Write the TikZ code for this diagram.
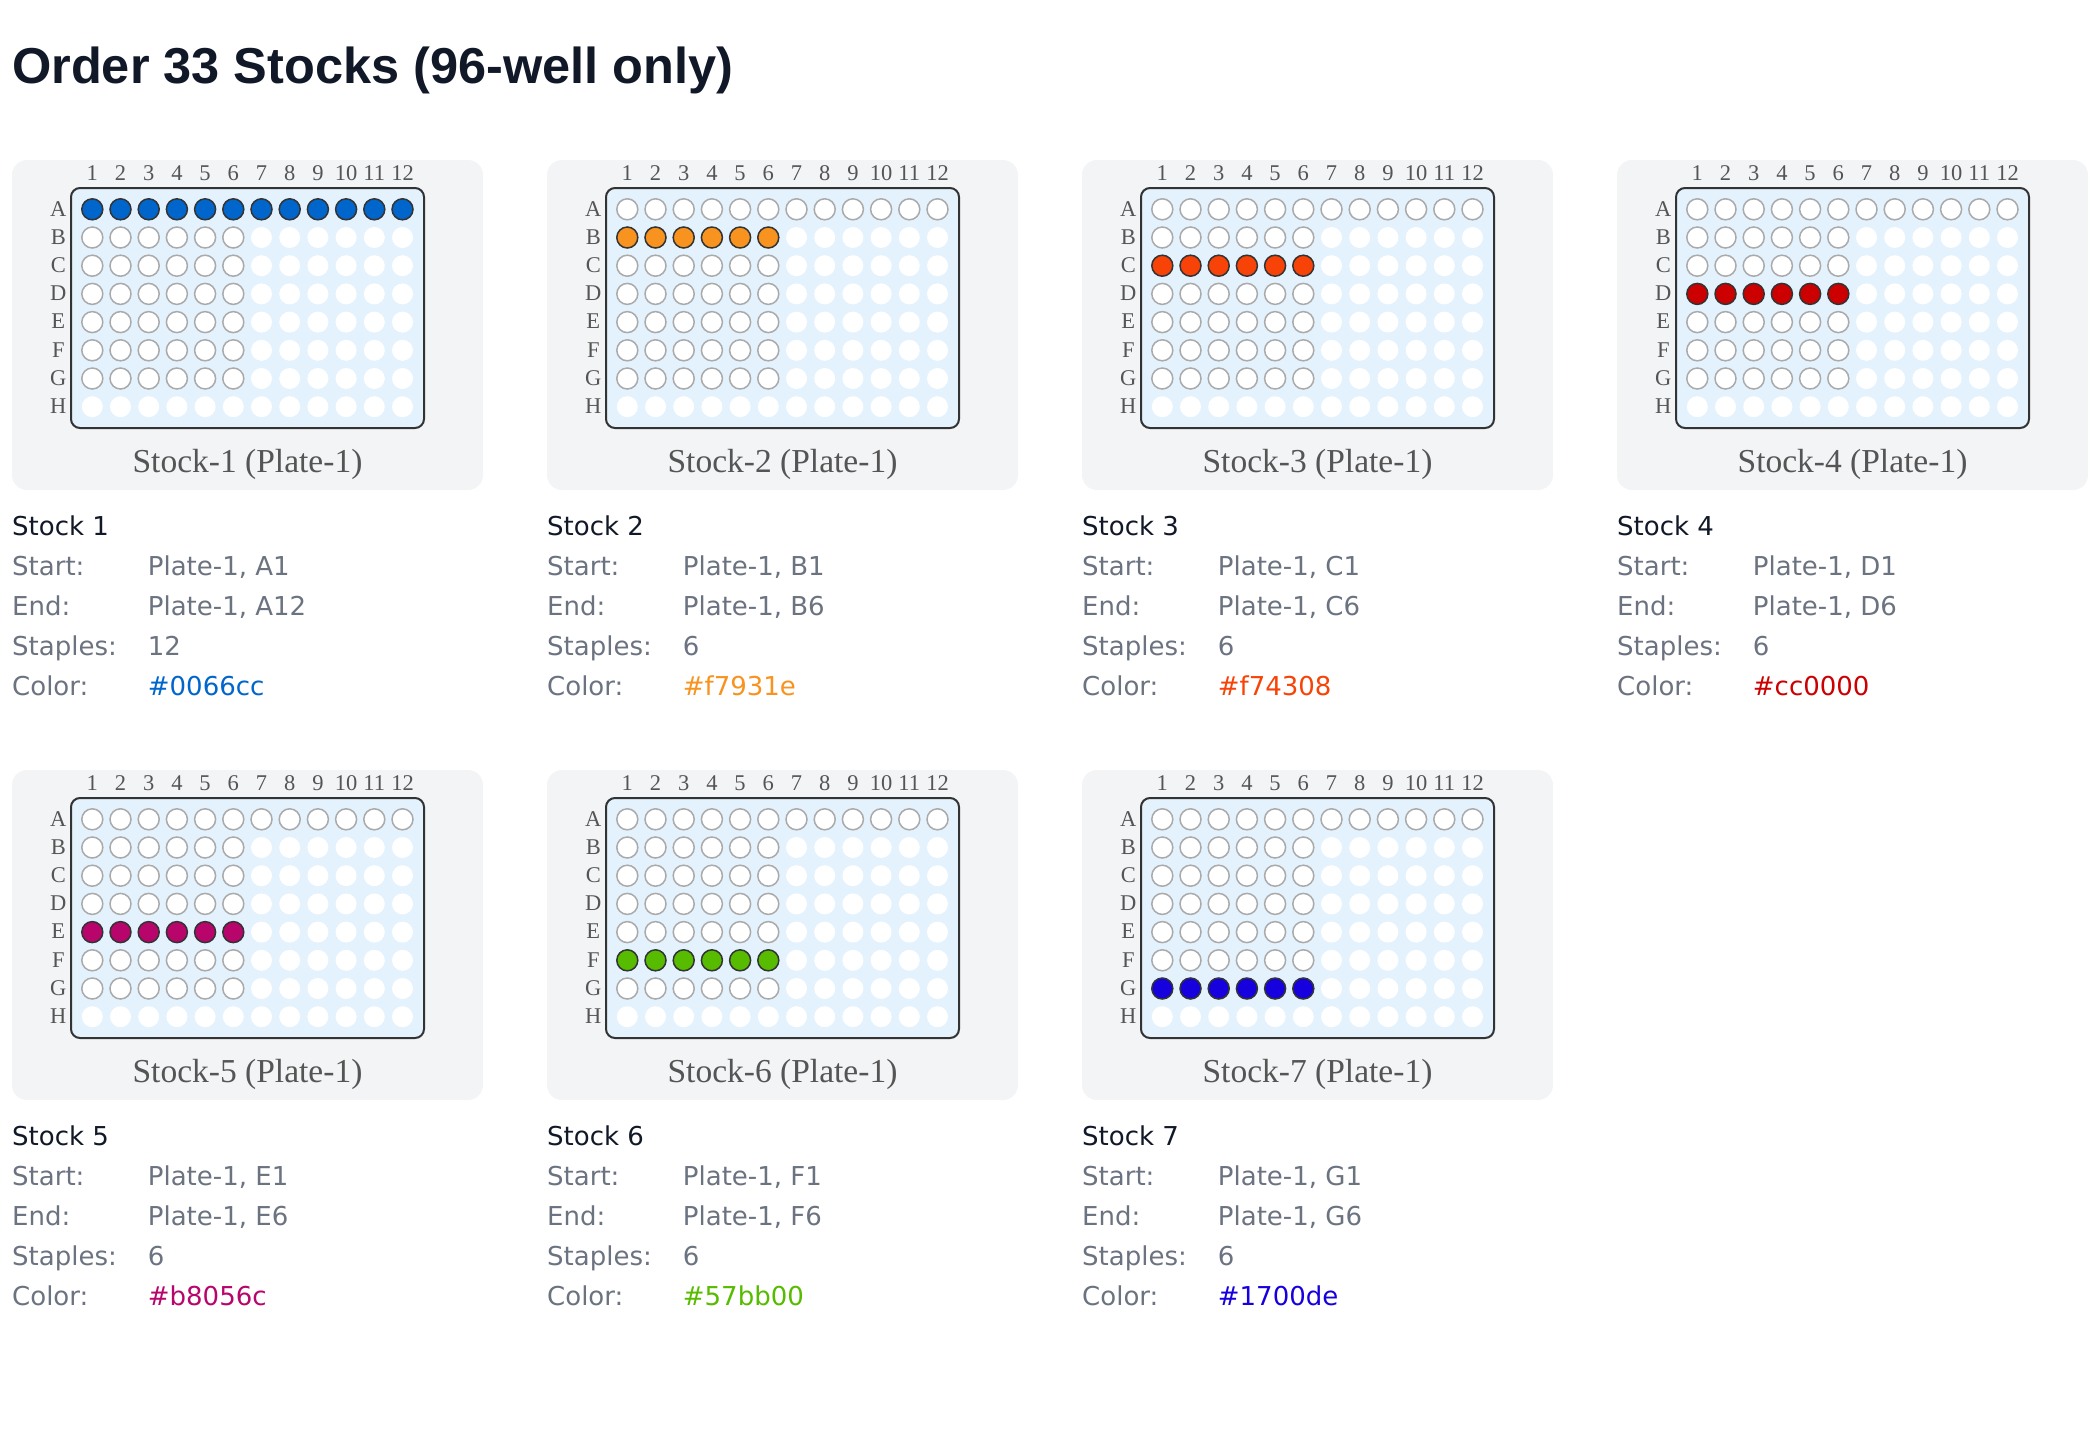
\documentclass[tikz,border=0pt]{standalone}
\usepackage{fontspec}
\setmainfont{Liberation Serif}
\newfontfamily\uisans{DejaVu Sans}
\newfontfamily\titlefont{Liberation Sans}
\definecolor{cardbg}{HTML}{F3F4F6}
\definecolor{platebg}{HTML}{E3F2FD}
\definecolor{plateline}{HTML}{333333}
\definecolor{wellgray}{HTML}{AAAAAA}
\definecolor{lblgray}{HTML}{555555}
\definecolor{txtgray}{HTML}{6B7280}
\definecolor{txtdark}{HTML}{111827}
\begin{document}
\begin{tikzpicture}[x=1pt,y=-1pt,
  cardbox/.style={fill=cardbg, rounded corners=15pt},
  platebox/.style={fill=platebg, draw=plateline, line width=2pt, rounded corners=9pt},
  wellbase/.style={circle, minimum size=21pt, inner sep=0pt, outer sep=0pt},
  wellfilled/.style={wellbase, draw=plateline, line width=1.5pt},
  wellring/.style={wellbase, draw=wellgray, line width=1.5pt, fill=white},
  wellfree/.style={wellbase, fill=white},
  collbl/.style={font=\fontsize{22.5}{26}\selectfont, text=lblgray, anchor=base, inner sep=0pt},
  rowlbl/.style={font=\fontsize{22.5}{26}\selectfont, text=lblgray, anchor=base, inner sep=0pt},
  caption/.style={font=\fontsize{33.5}{38}\selectfont, text=lblgray, anchor=base, inner sep=0pt},
  infohead/.style={font=\uisans\fontsize{26}{30}\selectfont, text=txtdark, anchor=base west, inner sep=0pt},
  infolbl/.style={font=\uisans\fontsize{26}{30}\selectfont, text=txtgray, anchor=base west, inner sep=0pt},
  infoval/.style={font=\uisans\fontsize{26}{30}\selectfont, anchor=base west, inner sep=0pt},
  titletext/.style={font=\titlefont\bfseries\fontsize{50.5}{56}\selectfont, text=txtdark, anchor=base west, inner sep=0pt}
]
\useasboundingbox (0,0) rectangle (2094,1443);
\node[titletext] (title) at (12,83) {Order 33 Stocks (96-well only)};

\foreach \n/\sx/\sy/\frow/\fcnt/\hex/\L in {
  1/12/160/1/12/0066cc/A,
  2/547/160/2/6/f7931e/B,
  3/1082/160/3/6/f74308/C,
  4/1617/160/4/6/cc0000/D,
  5/12/770/5/6/b8056c/E,
  6/547/770/6/6/57bb00/F,
  7/1082/770/7/6/1700de/G}{
  \definecolor{stockc}{HTML}{\hex}
  \fill[cardbox] (\sx,\sy) rectangle ++(471,330);
  \coordinate (card-\n) at (\sx,\sy);
  \draw[platebox] ({\sx+59},{\sy+28}) rectangle ({\sx+412},{\sy+268});
  \foreach \c in {1,...,12}{
    \node[collbl] (col-\n-\c) at ({\sx+80.3+(\c-1)*28.2},{\sy+20}) {\c};
  }
  \foreach \r/\rl in {1/A,2/B,3/C,4/D,5/E,6/F,7/G,8/H}{
    \node[rowlbl] (row-\n-\rl) at ({\sx+46.3},{\sy+49.3+(\r-1)*28.2+6.8}) {\rl};
    \foreach \c in {1,...,12}{
      \pgfmathtruncatemacro{\isfill}{(\r==\frow) && (\c<=\fcnt) ? 1 : 0}
      \pgfmathtruncatemacro{\isring}{((\r==1) || ((\r<=7) && (\c<=6))) ? 1 : 0}
      \ifnum\isfill=1
        \node[wellfilled, fill=stockc] (w-\n-\rl\c) at ({\sx+80.3+(\c-1)*28.2},{\sy+49.3+(\r-1)*28.2}) {};
      \else
        \ifnum\isring=1
          \node[wellring] (w-\n-\rl\c) at ({\sx+80.3+(\c-1)*28.2},{\sy+49.3+(\r-1)*28.2}) {};
        \else
          \node[wellfree] (w-\n-\rl\c) at ({\sx+80.3+(\c-1)*28.2},{\sy+49.3+(\r-1)*28.2}) {};
        \fi
      \fi
    }
  }
  \node[caption] (cap-\n) at ({\sx+235.5},{\sy+312.7}) {Stock-\n\ (Plate-1)};
  \node[infohead] (head-\n) at (\sx,{\sy+375}) {Stock \n};
  \node[infolbl] (lstart-\n) at (\sx,{\sy+415}) {Start:};
  \node[infolbl] (lend-\n) at (\sx,{\sy+455}) {End:};
  \node[infolbl] (lstap-\n) at (\sx,{\sy+495}) {Staples:};
  \node[infolbl] (lcol-\n) at (\sx,{\sy+535}) {Color:};
  \node[infoval, text=txtgray] (vstart-\n) at ({\sx+135.7},{\sy+415}) {Plate-1, \L1};
  \ifnum\n=1
    \node[infoval, text=txtgray] (vend-\n) at ({\sx+135.7},{\sy+455}) {Plate-1, \L12};
    \node[infoval, text=txtgray] (vstap-\n) at ({\sx+135.7},{\sy+495}) {12};
  \else
    \node[infoval, text=txtgray] (vend-\n) at ({\sx+135.7},{\sy+455}) {Plate-1, \L6};
    \node[infoval, text=txtgray] (vstap-\n) at ({\sx+135.7},{\sy+495}) {6};
  \fi
  \node[infoval, text=stockc] (vcol-\n) at ({\sx+135.7},{\sy+535}) {\#\hex};
}
\end{tikzpicture}
\end{document}
